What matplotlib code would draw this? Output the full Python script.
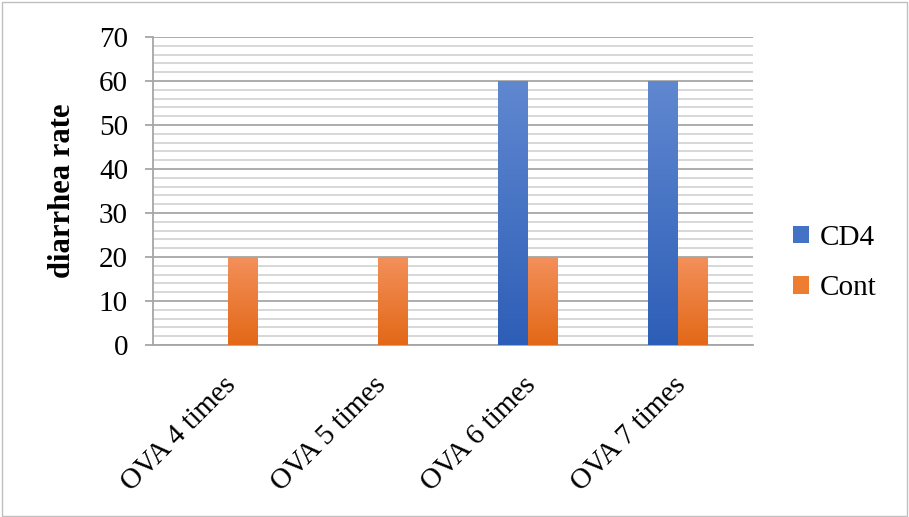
import numpy as np
import matplotlib
matplotlib.use("Agg")
import matplotlib.pyplot as plt
import matplotlib.transforms as mtransforms
from matplotlib.colors import LinearSegmentedColormap
from matplotlib.patches import Rectangle, Patch

categories = ["OVA 4 times", "OVA 5 times", "OVA 6 times", "OVA 7 times"]
cd4 = [0, 0, 60, 60]
cont = [20, 20, 20, 20]
series_names = ["CD4", "Cont"]
y_ticks = [0, 10, 20, 30, 40, 50, 60, 70]

plt.rcParams["font.family"] = ["Liberation Serif", "DejaVu Serif"]

fig = plt.figure(figsize=(9.09, 5.17), dpi=100)
ax = fig.add_axes([153 / 909, 1 - 345 / 517, 600 / 909, 308 / 517])

x = np.arange(len(categories))
w = 0.2
grad_colors = {
    "CD4": ("#6088D0", "#2D5EB7"),
    "Cont": ("#F3905A", "#E36817"),
}
flat_colors = {"CD4": "#4472C4", "Cont": "#ED7D31"}

grad = np.linspace(1, 0, 256).reshape(-1, 1)
for vals, name, off in [(cd4, "CD4", -w / 2), (cont, "Cont", w / 2)]:
    bars = ax.bar(x + off, vals, width=w, color="none", edgecolor="none", zorder=3)
    cmap = LinearSegmentedColormap.from_list(name, [grad_colors[name][1], grad_colors[name][0]])
    for b in bars:
        h = b.get_height()
        if h <= 0:
            continue
        x0 = b.get_x()
        im = ax.imshow(grad, cmap=cmap, aspect="auto", extent=[x0, x0 + b.get_width(), 0, h],
                       zorder=3, interpolation="bilinear")
        im.set_clip_path(b)

ax.set_xlim(-0.5, len(categories) - 0.5)
ax.set_ylim(0, 70)
ax.set_yticks(y_ticks)
ax.set_yticks(np.arange(0, 71, 2), minor=True)
ax.grid(axis="y", which="major", color="#A6A6A6", linewidth=1.3, zorder=0)
ax.grid(axis="y", which="minor", color="#D4D4D4", linewidth=1.3, zorder=0)
ax.set_axisbelow(True)

for s in ["top", "right"]:
    ax.spines[s].set_visible(False)
ax.spines["left"].set_color("#A6A6A6")
ax.spines["bottom"].set_color("#A6A6A6")
ax.spines["left"].set_linewidth(1.3)
ax.spines["bottom"].set_linewidth(1.3)
ax.tick_params(axis="y", which="major", length=6, color="#A6A6A6", width=1.3, labelsize=21, pad=12)
ax.tick_params(axis="y", which="minor", length=0)
ax.tick_params(axis="x", length=0, labelsize=21, pad=0)

ax.set_xticks(x)
ax.set_xticklabels(categories, rotation=45, ha="right", va="center", rotation_mode="anchor")
offset = mtransforms.ScaledTranslation(4 / 100, -36 / 100, fig.dpi_scale_trans)
for lbl in ax.get_xticklabels():
    lbl.set_transform(lbl.get_transform() + offset)

ax.set_ylabel("diarrhea rate", fontsize=22, fontweight="bold")
ax.yaxis.set_label_coords(-76 / 600, 0.5)

handles = [Patch(facecolor=flat_colors[n], edgecolor="none") for n in series_names]
fig.legend(handles, series_names, loc="center left", bbox_to_anchor=(767 / 909, 1 - 263 / 517),
           frameon=False, fontsize=21, handlelength=0.55, handleheight=0.55,
           handletextpad=0.35, labelspacing=0.85)

fig.patches.append(Rectangle((0.002, 0.002), 0.996, 0.995, transform=fig.transFigure,
                             fill=False, edgecolor="#BFBFBF", linewidth=1))

fig.savefig("out.png", dpi=100)
